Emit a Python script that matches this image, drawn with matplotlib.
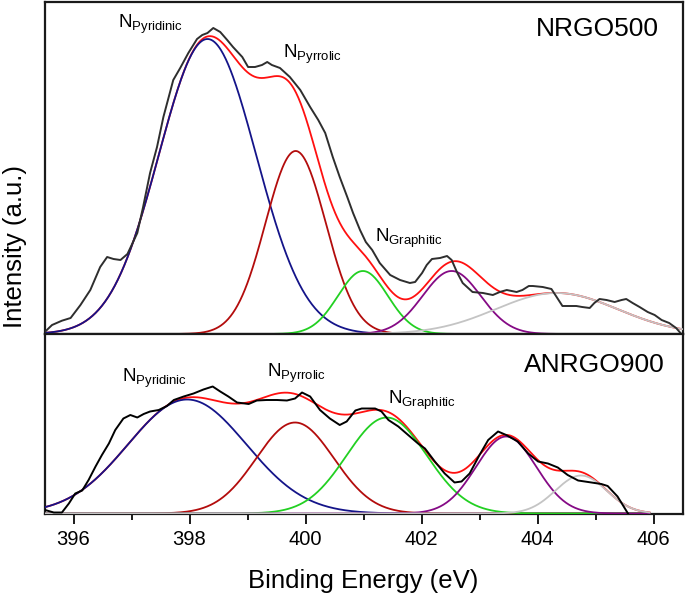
import numpy as np
import matplotlib
matplotlib.use("Agg")
import matplotlib.pyplot as plt
from matplotlib.ticker import MultipleLocator

plt.rcParams['font.family'] = ['Liberation Sans', 'DejaVu Sans']
plt.rcParams['mathtext.fontset'] = 'custom'
plt.rcParams['mathtext.rm'] = 'Liberation Sans'
plt.rcParams['mathtext.it'] = 'Liberation Sans:italic'
plt.rcParams['mathtext.bf'] = 'Liberation Sans:bold'

# ---------------- data ----------------
# NRGO500 measured spectrum (binding energy eV, intensity a.u.)
top_energy = [395.51, 395.63, 395.80, 395.95, 396.12, 396.29, 396.46, 396.58, 396.69, 396.81,
              396.93, 397.10, 397.20, 397.32, 397.44, 397.55, 397.72, 397.84, 397.98, 398.13,
              398.22, 398.31, 398.41, 398.53, 398.65, 398.75, 398.91, 399.01, 399.13, 399.25,
              399.34, 399.42, 399.56, 399.73, 399.91, 400.08, 400.22, 400.34, 400.47, 400.59,
              400.72, 400.82, 400.94, 401.04, 401.15, 401.28, 401.46, 401.63, 401.80, 401.89,
              402.01, 402.09, 402.18, 402.32, 402.44, 402.52, 402.61, 402.71, 402.88, 403.06,
              403.23, 403.35, 403.47, 403.64, 403.74, 403.85, 403.92, 404.09, 404.24, 404.33,
              404.43, 404.55, 404.67, 404.77, 404.90, 404.98, 405.07, 405.19, 405.33, 405.45,
              405.53, 405.64, 405.76, 405.90, 406.02, 406.14, 406.27, 406.39, 406.48]
top_intensity = [2.3, 9, 13.3, 16, 29, 44, 67, 77, 75, 74,
                 80, 101, 127, 161, 187, 217, 254, 266, 281, 295,
                 299, 301, 306, 302, 294, 287, 277, 267, 267, 269,
                 272, 269, 266, 257, 244, 227, 214, 201, 177, 157,
                 137, 121, 104, 92, 84, 71, 59, 54, 51, 52,
                 61, 69, 75, 76, 78, 74, 62, 51, 42, 41,
                 39, 42, 44, 42, 44, 48, 48, 47, 45, 37,
                 28, 28, 28, 27, 26, 31, 35, 34, 32, 34,
                 35, 31, 27, 22, 19, 14, 11, 6, 0]

# ANRGO900 measured spectrum
bot_energy = [395.51, 395.66, 395.80, 395.92, 396.03, 396.15, 396.26, 396.38, 396.49, 396.61,
              396.72, 396.86, 396.98, 397.10, 397.21, 397.32, 397.47, 397.61, 397.73, 397.90,
              398.07, 398.24, 398.40, 398.53, 398.67, 398.82, 399.02, 399.16, 399.33, 399.51,
              399.68, 399.82, 399.94, 400.08, 400.25, 400.42, 400.59, 400.71, 400.86, 400.97,
              401.20, 401.31, 401.43, 401.60, 401.77, 401.94, 402.06, 402.23, 402.40, 402.57,
              402.69, 402.83, 403.00, 403.15, 403.32, 403.46, 403.66, 403.84, 404.01, 404.18,
              404.35, 404.52, 404.70, 404.93, 405.10, 405.21, 405.38, 405.56]
bot_intensity = [3.5, 1, 1, 10, 20, 23, 33.5, 47, 58.5, 70,
                 83.5, 95, 98.5, 96, 99.5, 102, 103.5, 107.5, 113.5, 117,
                 120, 124, 127, 122, 117, 111, 109.5, 113, 113.5, 113.5,
                 113, 115, 121, 117, 103.5, 95, 88.5, 92, 103, 105,
                 105, 102, 93.5, 87, 78.5, 70, 65, 52, 40, 31,
                 32, 40, 58.5, 73.5, 82, 78.5, 72, 60, 52, 50,
                 46, 38.5, 33, 31, 29.5, 27.5, 17, 0]

# Gaussian fit components: Pyridinic, Pyrrolic, Graphitic, oxidized, satellite
top_centers = [398.31, 399.83, 400.99, 402.52, 404.33]
top_heights = [295, 183, 63, 63, 41]
top_sigmas = [0.84, 0.52, 0.43, 0.50, 1.05]

bot_centers = [397.96, 399.82, 401.40, 403.46, 404.75]
bot_heights = [114, 91, 96, 77, 38]
bot_sigmas = [1.02, 0.67, 0.69, 0.52, 0.44]

comp_colors = ['#141489', '#b30c0c', '#22d022', '#850a85', '#c4c4c4']
xticks = [396, 398, 400, 402, 404, 406]

# ---------------- figure ----------------
W, H = 685, 597
fig = plt.figure(figsize=(W / 100, H / 100), dpi=100)
ax1 = fig.add_axes([44.5 / W, 1 - 334 / H, 638 / W, 332.5 / H])
ax2 = fig.add_axes([44.5 / W, 1 - 513.5 / H, 638 / W, 179.5 / H])


def draw_panel(ax, energy, inten, centers, heights, sigmas, x_end, data_color):
    xs = np.linspace(395.5, x_end, 800)
    comps = [h * np.exp(-(xs - c) ** 2 / (2 * s ** 2)) for c, h, s in zip(centers, heights, sigmas)]
    ax.plot(xs, np.sum(comps, axis=0), color='#ff1010', lw=1.3, zorder=2)
    for comp, col in zip(comps, comp_colors):
        ax.plot(xs, comp, color=col, lw=1.3, zorder=3)
    ax.plot(energy, inten, color=data_color, lw=1.4, zorder=4)
    ax.set_xlim(395.5, 406.5)
    for sp in ax.spines.values():
        sp.set_linewidth(1.6)
        sp.set_color('#1a1a1a')


draw_panel(ax1, top_energy, top_intensity, top_centers, top_heights, top_sigmas, 406.5, '#2e2e2e')
draw_panel(ax2, bot_energy, bot_intensity, bot_centers, bot_heights, bot_sigmas, 405.93, '#000000')
ax1.set_ylim(0, 332.5)
ax2.set_ylim(0, 179.5)

ax1.tick_params(bottom=False, labelbottom=False, left=False, labelleft=False)
ax2.tick_params(left=False, labelleft=False)
ax2.set_xticks(xticks)
ax2.xaxis.set_minor_locator(MultipleLocator(1))
ax2.tick_params(axis='x', which='major', direction='out', length=7, width=1.4,
                labelsize=14.5, pad=5, color='#1a1a1a')
ax2.tick_params(axis='x', which='minor', direction='out', length=4.5, width=1.4, color='#1a1a1a')

lab_fs = 13.5
ax1.text(396.77, 305.7, r'N$_{\mathrm{Pyridinic}}$', fontsize=lab_fs, va='baseline', ha='left')
ax1.text(399.61, 276, r'N$_{\mathrm{Pyrrolic}}$', fontsize=lab_fs, va='baseline', ha='left')
ax1.text(401.20, 92, r'N$_{\mathrm{Graphitic}}$', fontsize=lab_fs, va='baseline', ha='left')
ax1.text(406.10, 298, 'NRGO500', fontsize=19, va='baseline', ha='right')

ax2.text(396.84, 131.8, r'N$_{\mathrm{Pyridinic}}$', fontsize=lab_fs, va='baseline', ha='left')
ax2.text(399.33, 136.8, r'N$_{\mathrm{Pyrrolic}}$', fontsize=lab_fs, va='baseline', ha='left')
ax2.text(401.42, 109.5, r'N$_{\mathrm{Graphitic}}$', fontsize=lab_fs, va='baseline', ha='left')
ax2.text(406.19, 141.2, 'ANRGO900', fontsize=19, va='baseline', ha='right')

fig.text(363.5 / W, 1 - 581 / H, 'Binding Energy (eV)', fontsize=18.5, ha='center', va='center')
fig.text(15 / W, 1 - 246 / H, 'Intensity (a.u.)', fontsize=18.5, ha='center', va='center', rotation=90)

fig.savefig('out.png', dpi=100)
